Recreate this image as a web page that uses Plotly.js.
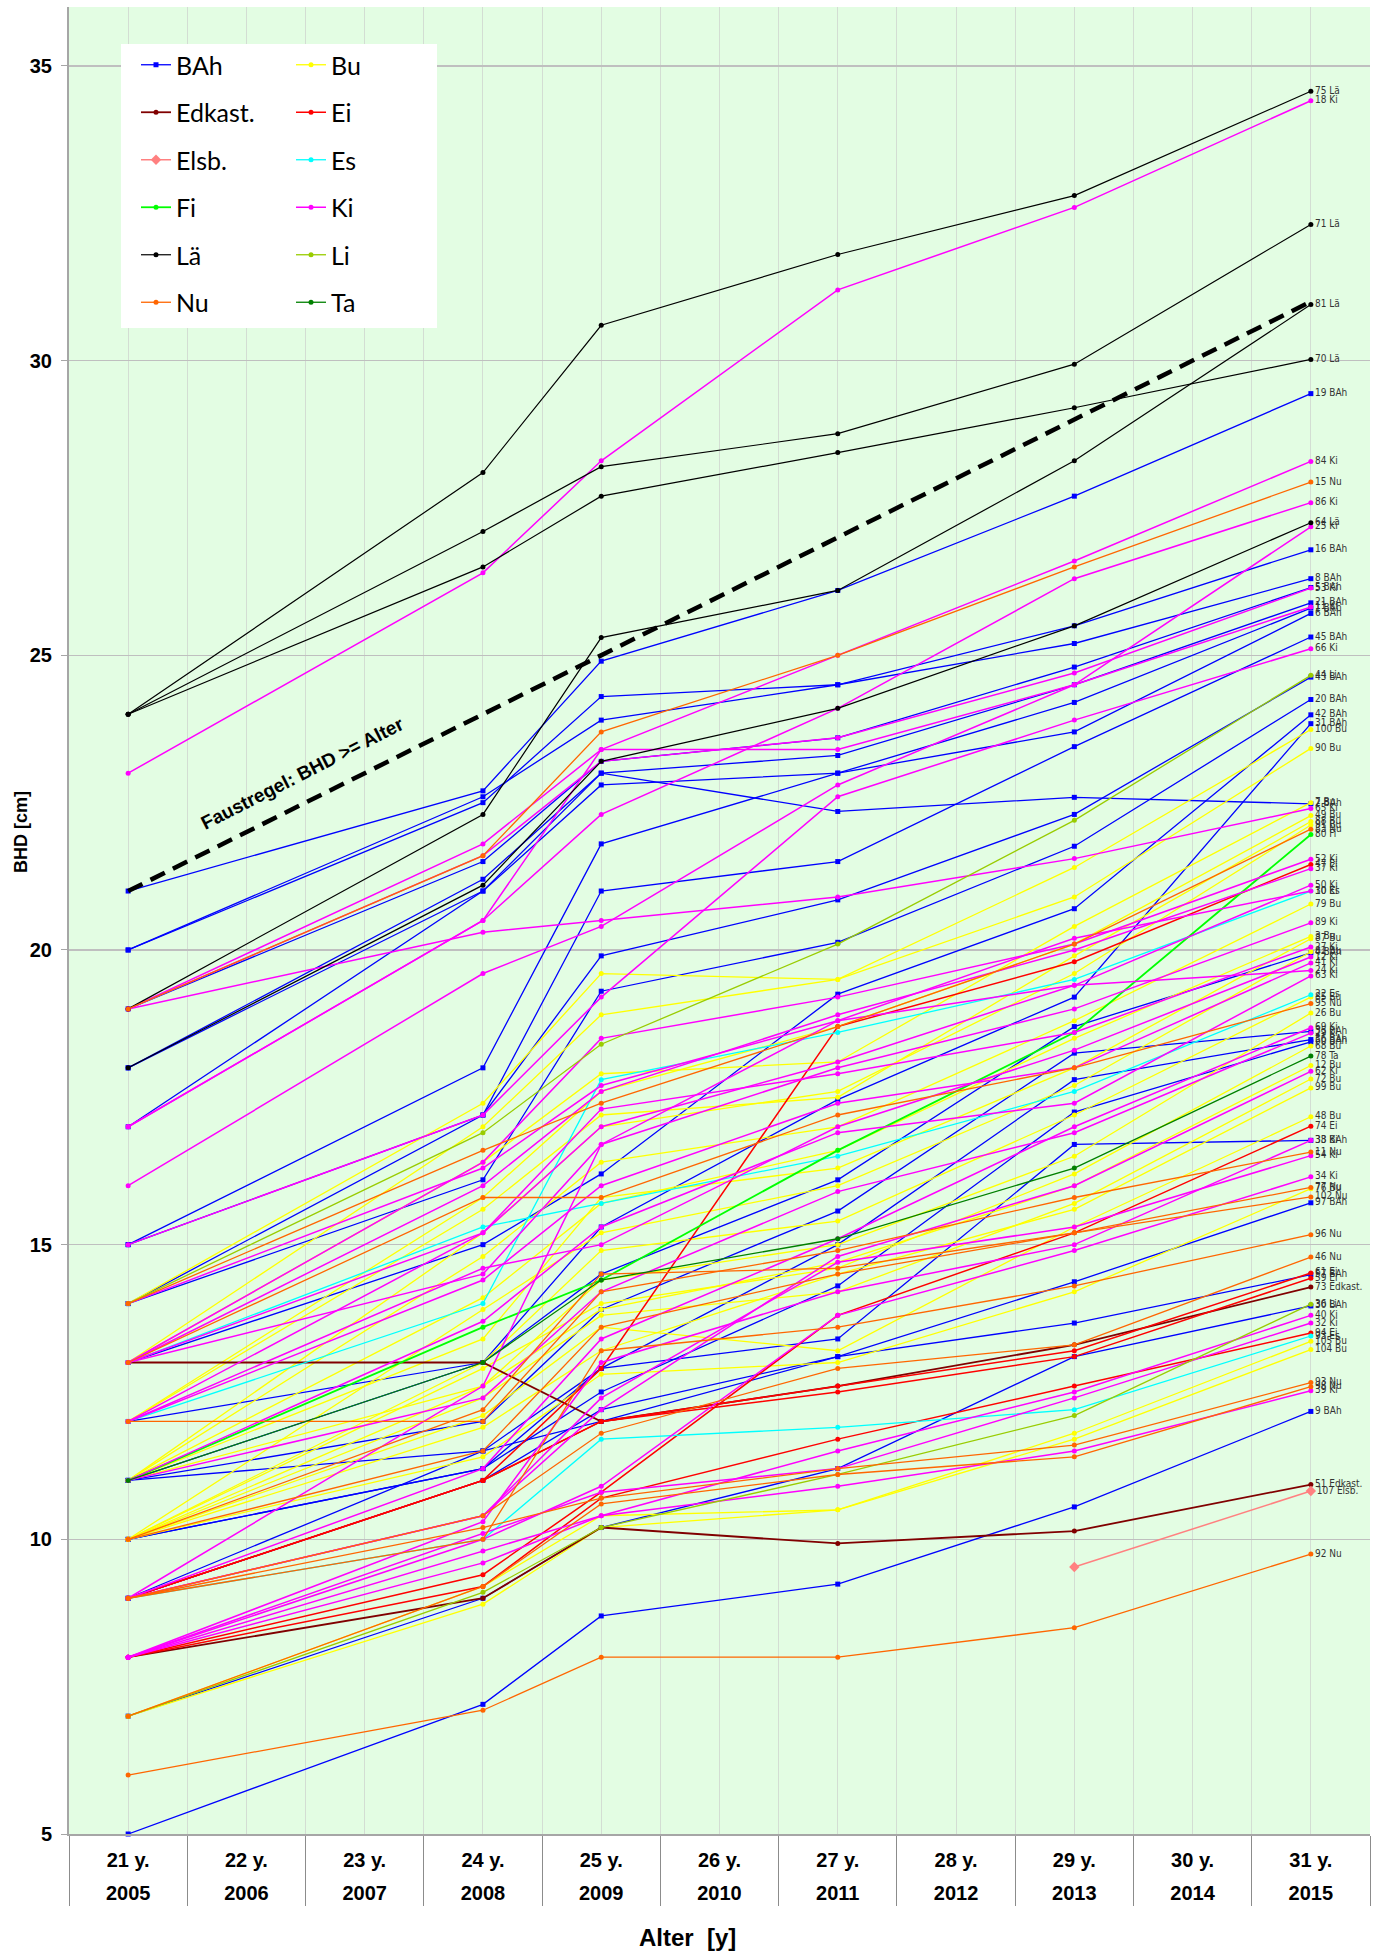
<!DOCTYPE html>
<html><head><meta charset="utf-8">
<script src="https://cdn.plot.ly/plotly-3.0.1.min.js"></script>
<style>html,body{margin:0;padding:0;background:#fff}#chart{width:1379px;height:1952px}</style>
</head><body><div id="chart"></div>
<script>
// measurement years (x positions of points)
const measureYears = [2005, 2008, 2009, 2011, 2013, 2015];
const categories = [2005, 2006, 2007, 2008, 2009, 2010, 2011, 2012, 2013, 2014, 2015];
const ageLabels = ['21 y.', '22 y.', '23 y.', '24 y.', '25 y.', '26 y.', '27 y.', '28 y.', '29 y.', '30 y.', '31 y.'];
const yearLabels = ['2005', '2006', '2007', '2008', '2009', '2010', '2011', '2012', '2013', '2014', '2015'];
const ruleX = [2005, 2015];
const ruleY = [21, 31];
const yTicks = [5, 10, 15, 20, 25, 30, 35];

// BHD values [2005, 2008, 2009, 2011, 2013, 2015] per tree
const BAh = [
  ['19', [21, 22.7, 24.9, 26.1, 27.7, 29.44]],
  ['16', [20, 22.5, 24.3, 24.5, 25.5, 26.79]],
  ['8',  [20, 22.6, 23.9, 24.5, 25.2, 26.30]],
  ['5',  [19, 21.5, 23.2, 23.6, 24.8, 26.15]],
  ['21', [18, 21.2, 23.0, 23.3, 24.5, 25.89]],
  ['1',  [17, 21.0, 22.8, 23.0, 24.2, 25.80]],
  ['6',  [15, 18.0, 21.8, 23.0, 23.7, 25.71]],
  ['45', [15, 17.2, 21.0, 21.5, 23.45, 25.31]],
  ['43', [14, 17.2, 19.9, 20.85, 22.3, 24.63]],
  ['20', [14, 16.1, 19.3, 20.13, 21.76, 24.25]],
  ['42', [13, 15.0, 16.2, 19.25, 20.7, 23.99]],
  ['31', [12, 13.0, 15.3, 17.46, 19.2, 23.84]],
  ['2',  [18, 21.0, 23.0, 22.35, 22.59, 22.48]],
  ['4',  [11, 13.0, 14.5, 16.1, 18.7, 19.95]],
  ['35', [11, 12.0, 13.9, 15.57, 18.25, 18.62]],
  ['56', [11, 11.5, 12.9, 15.0, 17.8, 18.48]],
  ['60', [10, 11.2, 12.5, 14.3, 17.25, 18.44]],
  ['33', [10, 11.2, 12.9, 13.4, 16.7, 16.77]],
  ['97', [9, 11.0, 12.2, 13.1, 14.37, 15.71]],
  ['57', [9, 11.5, 12.0, 13.1, 13.67, 14.49]],
  ['30', [7, 9.0, 10.2, 11.2, 13.1, 13.96]],
  ['9',  [5, 7.2, 8.7, 9.24, 10.55, 12.17]]
];
const Bu = [
  ['100', [14, 17.4, 19.6, 19.5, 21.4, 23.74]],
  ['90',  [13, 17.0, 18.9, 19.5, 20.9, 23.42]],
  ['7',   [13, 16.4, 17.9, 18.1, 20.4, 22.50]],
  ['49',  [12, 15.8, 17.6, 18.7, 20.1, 22.28]],
  ['88',  [12, 15.6, 17.2, 17.5, 19.9, 22.18]],
  ['91',  [11, 15.2, 17.0, 17.6, 19.6, 22.12]],
  ['79',  [11, 14.8, 16.4, 17.0, 18.8, 20.78]],
  ['3',   [11, 14.1, 15.7, 16.6, 18.5, 20.23]],
  ['87',  [11, 13.4, 15.8, 16.3, 18.0, 20.19]],
  ['82',  [10, 13.9, 15.2, 16.0, 17.7, 19.97]],
  ['85',  [10, 13.0, 14.9, 15.4, 17.2, 19.20]],
  ['26',  [10, 12.6, 14.4, 15.0, 16.5, 18.93]],
  ['68',  [10, 12.9, 14.0, 14.6, 16.2, 18.37]],
  ['12',  [11, 12.6, 13.9, 14.7, 16.0, 18.04]],
  ['72',  [10, 12.4, 13.8, 14.2, 15.7, 17.81]],
  ['99',  [10, 11.9, 13.2, 14.5, 15.6, 17.66]],
  ['48',  [10, 12.1, 13.6, 13.2, 15.3, 17.17]],
  ['76',  [10, 11.4, 12.8, 13.0, 14.2, 15.95]],
  ['105', [7, 9.2, 10.4, 10.5, 11.8, 13.36]],
  ['104', [7, 8.9, 10.2, 10.5, 11.7, 13.22]]
];
const Edkast = [
  ['73', [13, 13.0, 12.0, 12.6, 13.3, 14.28]],
  ['51', [8, 9.0, 10.2, 9.93, 10.14, 10.93]]
];
const Ei = [
  ['47', [9, 11.0, 12.9, 18.7, 19.8, 21.45]],
  ['74', [8, 9.4, 10.8, 13.8, 15.2, 17.01]],
  ['61', [9, 11.0, 12.0, 12.6, 13.2, 14.52]],
  ['59', [9, 11.0, 12.0, 12.5, 13.1, 14.43]],
  ['94', [8, 9.2, 10.7, 11.7, 12.6, 13.50]]
];
const Elsb = [
  ['107', [null, null, null, null, 9.53, 10.82]]
];
const Es = [
  ['30', [12, 14.0, 17.8, 18.6, 19.5, 21.00]],
  ['22', [13, 15.3, 15.7, 16.5, 17.6, 19.24]],
  ['93', [9, 10.0, 11.7, 11.9, 12.2, 13.45]]
];
const Fi = [
  ['80', [11, 13.6, 14.4, 16.6, 18.6, 21.96]]
];
const Ki = [
  ['18', [23, 26.4, 28.3, 31.2, 32.6, 34.41]],
  ['84', [19, 21.8, 23.4, 25.0, 26.6, 28.29]],
  ['86', [17, 20.5, 22.3, 24.1, 26.3, 27.59]],
  ['25', [16, 19.6, 20.4, 22.8, 24.5, 27.18]],
  ['53', [19, 21.6, 23.2, 23.6, 24.7, 26.14]],
  ['11', [17, 20.5, 23.4, 23.4, 24.5, 25.82]],
  ['66', [15, 17.2, 19.2, 22.6, 23.9, 25.11]],
  ['65', [19, 20.3, 20.5, 20.9, 21.55, 22.40]],
  ['52', [13, 16.4, 18.5, 19.2, 20.1, 21.54]],
  ['37', [13, 16.0, 17.6, 18.9, 20.0, 21.38]],
  ['50', [12, 15.2, 17.0, 18.1, 19.4, 21.10]],
  ['10', [14, 16.3, 17.7, 18.8, 20.2, 21.00]],
  ['89', [13, 14.5, 16.7, 18.0, 19.0, 20.46]],
  ['27', [13, 15.2, 17.3, 17.9, 18.6, 20.05]],
  ['12', [12, 14.6, 15.0, 17.0, 18.3, 19.88]],
  ['41', [12, 14.4, 16.0, 17.4, 18.0, 19.78]],
  ['24', [9, 12.6, 16.7, 18.8, 19.4, 19.65]],
  ['63', [11, 13.7, 15.3, 16.9, 17.4, 19.56]],
  ['69', [9, 11.2, 13.4, 15.1, 17.0, 18.68]],
  ['29', [11, 12.4, 14.2, 15.9, 16.9, 18.59]],
  ['62', [9, 10.4, 12.2, 14.8, 16.0, 17.94]],
  ['38', [8, 10.3, 13.0, 14.2, 15.0, 16.77]],
  ['54', [9, 10.4, 12.4, 14.7, 15.3, 16.51]],
  ['34', [8, 10.0, 10.9, 13.8, 14.9, 16.15]],
  ['40', [8, 9.8, 10.4, 11.5, 12.5, 13.80]],
  ['32', [8, 10.1, 10.8, 11.2, 12.4, 13.67]],
  ['39', [8, 9.6, 10.4, 10.9, 11.5, 12.52]]
];
const Lae = [
  ['75', [24, 28.1, 30.6, 31.8, 32.8, 34.57]],
  ['71', [24, 27.1, 28.2, 28.76, 29.94, 32.31]],
  ['70', [24, 26.5, 27.7, 28.44, 29.2, 30.02]],
  ['81', [19, 22.3, 25.3, 26.1, 28.3, 30.95]],
  ['64', [18, 21.1, 23.2, 24.1, 25.5, 27.25]]
];
const Li = [
  ['44', [14, 16.9, 18.4, 20.1, 22.2, 24.66]],
  ['36', [7, 9.1, 10.2, 11.1, 12.1, 13.99]]
];
const Nu = [
  ['15',  [19, 21.6, 23.7, 25.0, 26.5, 27.94]],
  ['83',  [14, 16.6, 17.4, 18.7, 20.1, 22.05]],
  ['95',  [13, 15.8, 15.8, 17.2, 18.0, 19.09]],
  ['11',  [12, 12.0, 14.2, 14.9, 15.8, 16.57]],
  ['77',  [10, 12.2, 14.5, 14.6, 15.2, 15.97]],
  ['102', [10, 11.5, 13.6, 14.5, 15.2, 15.81]],
  ['96',  [9, 10.0, 13.2, 13.6, 14.3, 15.17]],
  ['46',  [9, 10.4, 11.8, 12.9, 13.3, 14.79]],
  ['93',  [9, 10.2, 10.7, 11.2, 11.6, 12.66]],
  ['98',  [7, 9.2, 10.6, 11.1, 11.4, 12.59]],
  ['92',  [6, 7.1, 8.0, 8.0, 8.5, 9.75]]
];
const Ta = [
  ['78', [11, 13.0, 14.4, 15.1, 16.3, 18.20]]
];

const species = [
  {name: 'BAh', rows: BAh, color: '#0000FF', symbol: 'square', size: 5, width: 1.3, legend: 'legend'},
  {name: 'Bu', rows: Bu, color: '#FFFF00', symbol: 'circle', size: 5, width: 1.3, legend: 'legend2'},
  {name: 'Edkast.', rows: Edkast, color: '#800000', symbol: 'circle', size: 5, width: 1.8, legend: 'legend'},
  {name: 'Ei', rows: Ei, color: '#FF0000', symbol: 'circle', size: 5, width: 1.5, legend: 'legend2'},
  {name: 'Elsb.', rows: Elsb, color: '#FF8080', symbol: 'diamond', size: 8, width: 1.5, legend: 'legend'},
  {name: 'Es', rows: Es, color: '#00FFFF', symbol: 'circle', size: 5, width: 1.3, legend: 'legend2'},
  {name: 'Fi', rows: Fi, color: '#00FF00', symbol: 'circle', size: 5, width: 1.8, legend: 'legend'},
  {name: 'Ki', rows: Ki, color: '#FF00FF', symbol: 'circle', size: 5, width: 1.5, legend: 'legend2'},
  {name: 'Lä', rows: Lae, color: '#000000', symbol: 'circle', size: 5, width: 1.2, legend: 'legend'},
  {name: 'Li', rows: Li, color: '#99CC00', symbol: 'circle', size: 5, width: 1.3, legend: 'legend2'},
  {name: 'Nu', rows: Nu, color: '#FF6600', symbol: 'circle', size: 5, width: 1.3, legend: 'legend'},
  {name: 'Ta', rows: Ta, color: '#008000', symbol: 'circle', size: 5, width: 1.3, legend: 'legend2'}
];

const traces = [];
species.forEach(sp => {
  sp.rows.forEach((row, i) => {
    const vals = row[1];
    const last = vals.length - 1;
    traces.push({
      type: 'scatter',
      mode: 'lines+markers+text',
      x: measureYears,
      y: vals,
      name: sp.name,
      legendgroup: sp.name,
      legend: sp.legend,
      showlegend: i === 0,
      line: {color: sp.color, width: sp.width},
      marker: {color: sp.color, symbol: sp.symbol, size: sp.size},
      text: vals.map((v, k) => k === last ? row[0] + ' ' + sp.name : ''),
      textposition: 'middle right',
      textfont: {family: 'Liberation Sans Narrow, Arial Narrow, DejaVu Sans Condensed, sans-serif', size: 10, color: '#333333'},
      cliponaxis: false,
      hoverinfo: 'x+y+name'
    });
  });
});

traces.push({
  type: 'scatter', mode: 'lines', x: ruleX, y: ruleY,
  line: {color: '#000000', width: 4.5, dash: '16px,9px'},
  showlegend: false, hoverinfo: 'skip'
});
// carrier for the second (year) label row
traces.push({type: 'scatter', mode: 'markers', x: [2005], y: [null], xaxis: 'x2', yaxis: 'y', showlegend: false, hoverinfo: 'skip'});

const W = 1379, H = 1952, ML = 69, MR = 9, MT = 7, MB = 118;
const PW = W - ML - MR, PH = H - MT - MB;
const px = x => (x - ML) / PW;
const py = y => 1 - (y - MT) / PH;

const boldFont = {family: 'Liberation Sans, Arial, sans-serif', size: 20, color: '#000000', weight: 'bold'};
const legendFont = {family: 'Lato, Open Sans, sans-serif', size: 25, color: '#000000'};

const layout = {
  width: W, height: H,
  margin: {l: ML, r: MR, t: MT, b: MB},
  paper_bgcolor: '#FFFFFF',
  plot_bgcolor: '#E3FDE3',
  showlegend: true,
  xaxis: {
    range: [2004.5, 2015.5],
    tickvals: categories, ticktext: ageLabels,
    tickfont: boldFont,
    ticks: '', ticklabelstandoff: 7,
    showgrid: true, gridcolor: '#D3DDD3', gridwidth: 1,
    minor: {tick0: 2004.5, dtick: 1, showgrid: true, gridcolor: '#D3DDD3', gridwidth: 1,
            ticks: 'outside', ticklen: 70, tickcolor: '#8C8C8C', tickwidth: 1},
    showline: true, linecolor: '#A6A6A6', linewidth: 2,
    zeroline: false, fixedrange: true
  },
  xaxis2: {
    overlaying: 'x', anchor: 'y', side: 'bottom',
    range: [2004.5, 2015.5],
    tickvals: categories, ticktext: yearLabels,
    tickfont: boldFont,
    ticks: '', ticklabelstandoff: 45,
    showgrid: false, showline: false, zeroline: false, fixedrange: true
  },
  yaxis: {
    range: [5, 36],
    tickvals: yTicks,
    tickfont: boldFont,
    ticks: 'outside', ticklen: 6, tickcolor: '#A6A6A6', ticklabelstandoff: 5,
    showgrid: true, gridcolor: '#BFBFBF', gridwidth: 1.3,
    showline: true, linecolor: '#A6A6A6', linewidth: 2,
    zeroline: false, fixedrange: true
  },
  legend: {
    x: px(136), y: py(42), xanchor: 'left', yanchor: 'top',
    bgcolor: 'rgba(0,0,0,0)', font: legendFont,
    traceorder: 'grouped', tracegroupgap: 12, itemwidth: 30
  },
  legend2: {
    x: px(291), y: py(42), xanchor: 'left', yanchor: 'top',
    bgcolor: 'rgba(0,0,0,0)', font: legendFont,
    traceorder: 'grouped', tracegroupgap: 12, itemwidth: 30
  },
  shapes: [{
    type: 'rect', xref: 'paper', yref: 'paper', layer: 'above',
    x0: px(121), x1: px(437), y0: py(328), y1: py(44),
    fillcolor: '#FFFFFF', line: {width: 0}
  }],
  annotations: [
    {text: 'BHD [cm]', xref: 'paper', yref: 'paper', x: px(21), y: py(832), textangle: -90,
     xanchor: 'center', yanchor: 'middle',
     showarrow: false, font: {family: 'Liberation Sans, Arial, sans-serif', size: 18, color: '#000', weight: 'bold'}},
    {text: 'Alter  [y]', xref: 'paper', yref: 'paper', x: px(687), y: py(1937),
     xanchor: 'center', yanchor: 'middle',
     showarrow: false, font: {family: 'Liberation Sans, Arial, sans-serif', size: 24, color: '#000', weight: 'bold'}},
    {text: 'Faustregel: BHD >= Alter', xref: 'x', yref: 'y', x: 2006.47, y: 23.0, textangle: -27,
     showarrow: false, font: {family: 'Liberation Sans, Arial, sans-serif', size: 19, color: '#000', weight: 'bold'}}
  ]
};

Plotly.newPlot('chart', traces, layout, {staticPlot: true, displayModeBar: false});
</script>
</body></html>
